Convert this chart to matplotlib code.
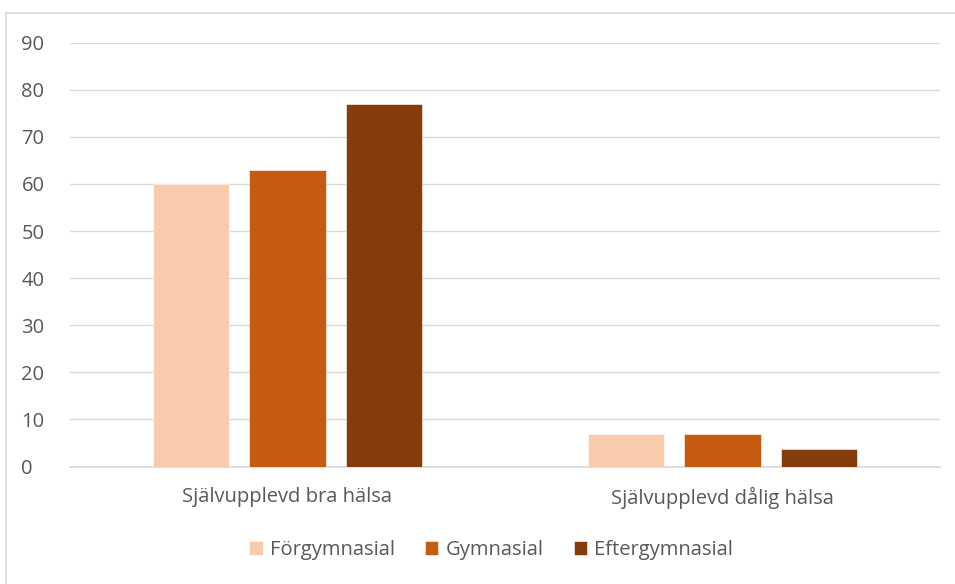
import numpy as np
import matplotlib.pyplot as plt

plt.rcParams['font.family'] = ['Open Sans', 'DejaVu Sans']

categories = ['Självupplevd bra hälsa', 'Självupplevd dålig hälsa']
series = ['Förgymnasial', 'Gymnasial', 'Eftergymnasial']
values = {
    'Förgymnasial': [60, 6.8],
    'Gymnasial': [63, 6.8],
    'Eftergymnasial': [77, 3.8],
}
colors = ['#F8CBAD', '#C55A11', '#843C0C']
yticks = [0, 10, 20, 30, 40, 50, 60, 70, 80, 90]

fig = plt.figure(figsize=(9.55, 5.84), dpi=100)
ax = fig.add_axes([70 / 955, 1 - 466.5 / 584, 870 / 955, (466.5 - 42.7) / 584])

x = np.arange(len(categories))
width = 0.175
step = 0.222
for i, (name, c) in enumerate(zip(series, colors)):
    ax.bar(x + (i - 1) * step, values[name], width, color=c, label=name,
           edgecolor='white', linewidth=0.4, zorder=3)

ax.set_xlim(-0.5, 1.5)
ax.set_ylim(0, 90)
ax.set_yticks(yticks)
ax.set_xticks(x)
ax.set_xticklabels(categories)
ax.grid(axis='y', color='#D9D9D9', linewidth=1, zorder=0)
for s in ['top', 'right', 'left']:
    ax.spines[s].set_visible(False)
ax.spines['bottom'].set_color('#D9D9D9')
ax.spines['bottom'].set_linewidth(1.2)
ax.tick_params(axis='both', length=0, labelsize=14.5, colors='#595959')
ax.tick_params(axis='y', pad=35)
ax.tick_params(axis='x', pad=15)
for lab in ax.get_yticklabels():
    lab.set_horizontalalignment('left')

leg = fig.legend(loc='center', bbox_to_anchor=(491 / 955, 1 - 550 / 584), ncol=3,
                 frameon=False, fontsize=14.5, handlelength=0.67, handleheight=0.67,
                 columnspacing=1.5, handletextpad=0.35)
for t in leg.get_texts():
    t.set_color('#595959')

# border only on top and left, like the cropped screenshot
fig.add_artist(plt.Line2D([6 / 955, 6 / 955], [0, 1 - 13 / 584], transform=fig.transFigure,
                          color='#D9D9D9', linewidth=1.2))
fig.add_artist(plt.Line2D([6 / 955, 1], [1 - 13 / 584, 1 - 13 / 584], transform=fig.transFigure,
                          color='#D9D9D9', linewidth=1.2))

fig.savefig('out.png', dpi=100)
